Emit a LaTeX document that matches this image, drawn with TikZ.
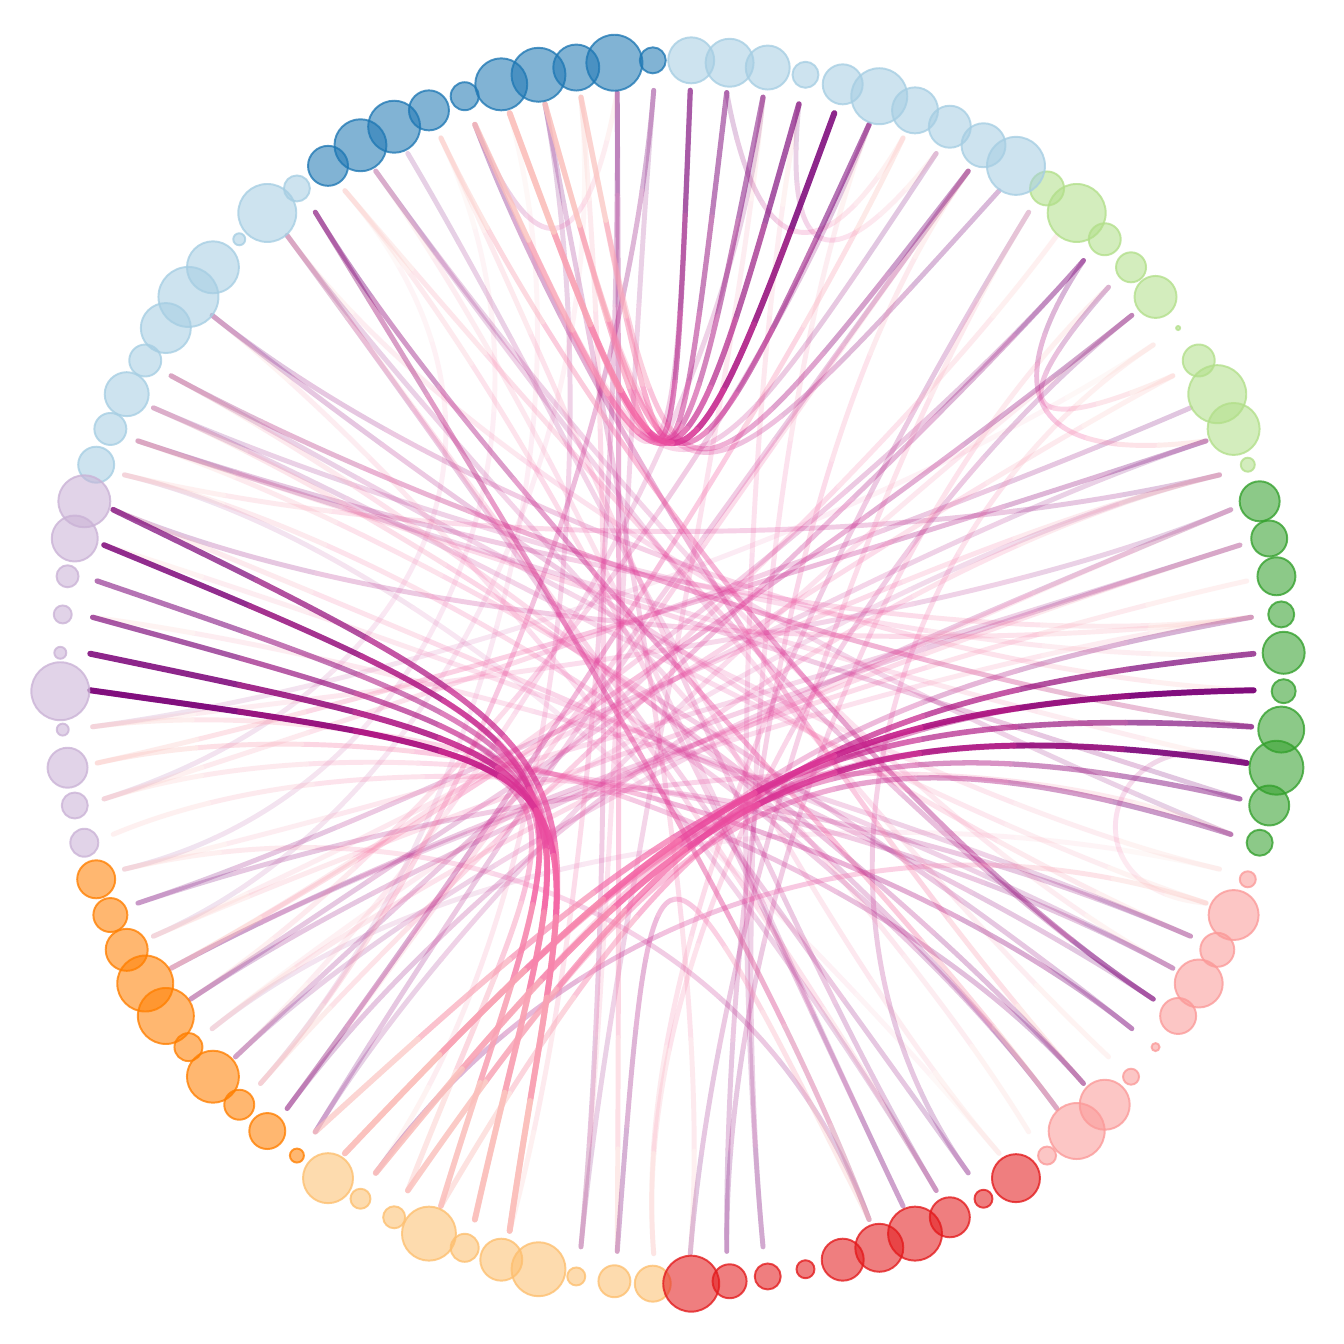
\documentclass[tikz,border=0pt]{standalone}
\definecolor{gDG}{HTML}{33A02C}
\definecolor{gLG}{HTML}{B2DF8A}
\definecolor{gLB}{HTML}{A6CEE3}
\definecolor{gDB}{HTML}{1F78B4}
\definecolor{gPU}{HTML}{CAB2D6}
\definecolor{gOR}{HTML}{FF7F00}
\definecolor{gLO}{HTML}{FDBF6F}
\definecolor{gRD}{HTML}{E31A1C}
\definecolor{gPK}{HTML}{FB9A99}
\definecolor{ec0}{HTML}{7A0177}
\definecolor{ec1}{HTML}{920879}
\definecolor{ec2}{HTML}{AB0F7F}
\definecolor{ec3}{HTML}{C41D89}
\definecolor{ec4}{HTML}{D93294}
\definecolor{ec5}{HTML}{EA4A9E}
\definecolor{ec6}{HTML}{F465A5}
\definecolor{ec7}{HTML}{F784AC}
\definecolor{ec8}{HTML}{F9A2B4}
\definecolor{ec9}{HTML}{FBC0BC}
\tikzset{dot/.style={circle,inner sep=0pt,minimum size=#1,line width=0.55pt,fill opacity=0.56,draw opacity=0.78}}
\newcommand\edgecurve[6]{%
  \begin{scope}[transparency group,opacity=#3]%
  \foreach \m/\col in {0/ec0,1/ec1,2/ec2,3/ec3,4/ec4,5/ec5,6/ec6,7/ec7,8/ec8,9/ec9}{%
    \pgfmathsetmacro\tA{\m/10}%
    \pgfmathsetmacro\tB{(\m+1)/10}%
    \begin{pgfscope}%
      \pgfsetstrokecolor{\col}%
      \pgfsetlinewidth{#4}%
      \pgfsetroundcap
      \pgfpathcurvebetweentime{\tA}{\tB}{\pgfpointanchor{e#1}{center}}{#5}{#6}{\pgfpointanchor{e#2}{center}}%
      \pgfusepath{stroke}%
    \end{pgfscope}%
  }%
  \end{scope}}
\newcommand\EG[4]{%
  \pgfmathsetmacro\tAa{1.8+3.6*#1}%
  \pgfmathtruncatemacro\gAa{mod(floor((#1+5)/10),10)}%
  \pgfmathsetmacro\cAa{36*\gAa+0.5*(mod(\tAa-36*\gAa+540,360)-180)}%
  \pgfmathsetmacro\tBb{1.8+3.6*#2}%
  \pgfmathtruncatemacro\gBb{mod(floor((#2+5)/10),10)}%
  \pgfmathsetmacro\cBb{36*\gBb+0.5*(mod(\tBb-36*\gBb+540,360)-180)}%
  \pgfmathsetmacro\aAa{#3*0.74}%
  \edgecurve{#1}{#2}{\aAa}{1.4pt}{\pgfpointpolar{\cAa}{#4cm}}{\pgfpointpolar{\cBb}{#4cm}}%
}
\newcommand\EB[6]{%
  \edgecurve{#1}{#2}{#3}{#4}{\pgfpointanchor{#5}{center}}{\pgfpointanchor{#6}{center}}%
}
\begin{document}
\begin{tikzpicture}
\fill[white] (-6.72,-6.72) rectangle (6.72,6.72);
\useasboundingbox (-6.72,-6.72) rectangle (6.72,6.72);
\foreach \k in {0,...,99}{\coordinate (e\k) at ({1.8+3.6*\k}:5.82);}
\coordinate (hA) at (0.0,1.19);
\coordinate (hB1) at (-0.22,-0.98);
\coordinate (hB2) at (-0.92,-0.78);
\coordinate (hC1) at (1.28,-0.28);
\coordinate (hC2) at (0.08,-1.28);
\coordinate (hD) at (-0.2,-1.15);
% faint edges
\EG{51}{9}{0.15}{2.6}
\EG{44}{84}{0.15}{2.6}
\EG{53}{34}{0.15}{2.6}
\EG{55}{31}{0.15}{2.6}
\EG{60}{94}{0.15}{2.6}
\EG{62}{29}{0.15}{2.6}
\EG{57}{27}{0.15}{2.6}
% light edges
\EG{3}{57}{0.3}{2.6}
\EG{4}{60}{0.3}{2.6}
\EG{5}{44}{0.3}{2.6}
\EG{7}{53}{0.3}{2.6}
\EG{10}{74}{0.3}{2.6}
\EG{14}{74}{0.3}{2.6}
\EG{72}{27}{0.3}{2.6}
\EG{28}{75}{0.3}{2.6}
\EG{32}{84}{0.25}{2.6}
\EG{33}{91}{0.25}{2.6}
\EG{36}{82}{0.3}{2.6}
\EG{39}{92}{0.3}{2.6}
\EG{41}{94}{0.25}{2.6}
\EG{42}{93}{0.25}{2.6}
\EG{43}{1}{0.3}{2.6}
\EG{45}{1}{0.3}{2.6}
\EG{91}{53}{0.3}{2.6}
\EG{92}{54}{0.3}{2.6}
\EG{90}{34}{0.35}{2.6}
\EG{86}{44}{0.3}{2.6}
\EG{83}{9}{0.3}{2.6}
\EG{82}{31}{0.3}{2.6}
\EG{81}{34}{0.3}{2.6}
\EG{80}{55}{0.3}{2.6}
\EG{77}{21}{0.25}{2.6}
\EG{76}{11}{0.3}{2.6}
\EG{75}{14}{0.3}{2.6}
\EG{56}{5}{0.3}{2.6}
\EG{58}{2}{0.3}{2.6}
\EG{59}{8}{0.3}{2.6}
\EG{61}{13}{0.3}{2.6}
\EG{64}{16}{0.3}{2.6}
\EG{98}{41}{0.3}{2.6}
\EG{96}{43}{0.3}{2.6}
\EG{95}{36}{0.25}{2.6}
\EG{3}{55}{0.25}{2.6}
\EG{4}{51}{0.25}{2.6}
\EG{5}{60}{0.2}{2.6}
\EG{6}{57}{0.25}{2.6}
\EG{16}{63}{0.3}{2.6}
\EG{19}{59}{0.3}{2.6}
\EG{22}{61}{0.25}{2.6}
\EG{33}{88}{0.25}{2.6}
\EG{36}{85}{0.25}{2.6}
\EG{39}{99}{0.3}{2.6}
\EG{41}{98}{0.3}{2.6}
\EG{42}{0}{0.25}{2.6}
\EG{43}{97}{0.25}{2.6}
\EG{56}{95}{0.3}{2.6}
\EG{58}{1}{0.25}{2.6}
\EG{59}{3}{0.3}{2.6}
\EG{61}{4}{0.25}{2.6}
\EG{63}{5}{0.3}{2.6}
\EG{64}{10}{0.25}{2.6}
\EG{72}{22}{0.25}{2.6}
\EG{76}{16}{0.3}{2.6}
\EG{77}{19}{0.25}{2.6}
\EG{80}{35}{0.3}{2.6}
\EG{81}{33}{0.25}{2.6}
\EG{82}{39}{0.25}{2.6}
\EG{83}{36}{0.3}{2.6}
\EG{86}{41}{0.3}{2.6}
\EG{89}{43}{0.3}{2.6}
\EG{90}{45}{0.3}{2.6}
\EG{91}{46}{0.25}{2.6}
\EG{92}{48}{0.25}{2.6}
\EG{28}{66}{0.25}{2.6}
\EG{26}{70}{0.3}{2.6}
\EG{25}{72}{0.25}{2.6}
\EG{12}{58}{0.3}{2.6}
% intra-group loops
\EG{12}{6}{0.4}{4.2}
\EG{11}{8}{0.35}{4.2}
\EG{23}{18}{0.28}{4.2}
\EG{21}{17}{0.25}{4.2}
\EG{97}{93}{0.22}{4.4}
\EG{30}{26}{0.25}{4.2}
% medium edges
\EG{6}{52}{0.4}{2.6}
\EG{10}{58}{0.45}{2.6}
\EG{12}{62}{0.4}{2.6}
\EG{25}{62}{0.4}{2.6}
\EG{26}{73}{0.45}{2.6}
\EG{30}{87}{0.45}{2.6}
\EG{35}{86}{0.55}{2.6}
\EG{35}{80}{0.45}{2.6}
\EG{87}{51}{0.35}{2.6}
\EG{89}{52}{0.45}{2.6}
\EG{90}{31}{0.55}{2.6}
\EG{63}{18}{0.45}{2.6}
\EG{66}{93}{0.4}{2.6}
\EG{87}{42}{0.35}{2.6}
\EB{73}{80}{0.3}{1.4pt}{hD}{hD}
% bundle A (top)
\EB{17}{30}{0.22}{1.4pt}{hA}{hA}
\EB{24}{30}{0.22}{1.4pt}{hA}{hA}
\EB{15}{28}{0.28}{1.4pt}{hA}{hA}
\EB{16}{27}{0.38}{1.45pt}{hA}{hA}
\EB{23}{27}{0.5}{1.5pt}{hA}{hA}
\EB{22}{29}{0.5}{1.5pt}{hA}{hA}
\EB{24}{28}{0.55}{1.5pt}{hA}{hA}
\EB{19}{28}{0.55}{1.5pt}{hA}{hA}
\EB{21}{30}{0.65}{1.6pt}{hA}{hA}
\EB{20}{29}{0.85}{1.7pt}{hA}{hA}
% bundle B (left)
\EB{46}{69}{0.3}{1.45pt}{hB1}{hB2}
\EB{48}{70}{0.3}{1.45pt}{hB1}{hB2}
\EB{50}{67}{0.4}{1.5pt}{hB1}{hB2}
\EB{48}{68}{0.5}{1.5pt}{hB1}{hB2}
\EB{47}{69}{0.55}{1.5pt}{hB1}{hB2}
\EB{45}{70}{0.7}{1.6pt}{hB1}{hB2}
\EB{46}{68}{0.75}{1.6pt}{hB1}{hB2}
\EB{49}{69}{0.85}{1.7pt}{hB1}{hB2}
\EB{50}{70}{0.9}{1.7pt}{hB1}{hB2}
% bundle C (right)
\EB{1}{66}{0.3}{1.45pt}{hC1}{hC2}
\EB{97}{65}{0.35}{1.45pt}{hC1}{hC2}
\EB{95}{67}{0.4}{1.5pt}{hC1}{hC2}
\EB{96}{65}{0.45}{1.5pt}{hC1}{hC2}
\EB{99}{68}{0.45}{1.5pt}{hC1}{hC2}
\EB{98}{64}{0.65}{1.6pt}{hC1}{hC2}
\EB{0}{67}{0.7}{1.6pt}{hC1}{hC2}
\EB{97}{66}{0.85}{1.7pt}{hC1}{hC2}
\EB{99}{65}{0.9}{1.7pt}{hC1}{hC2}
% nodes
\foreach \k/\r/\c in {0/21/gDG,1/13/gDG,2/19/gDG,3/18/gDG,4/20/gDG,
5/7/gLG,6/26/gLG,7/29/gLG,8/16/gLG,9/2/gLG,10/21/gLG,11/15/gLG,12/16/gLG,13/29/gLG,14/17/gLG,
15/29/gLB,16/22/gLB,17/21/gLB,18/23/gLB,19/28/gLB,20/20/gLB,21/13/gLB,22/22/gLB,23/24/gLB,24/23/gLB,
25/13/gDB,26/28/gDB,27/23/gDB,28/27/gDB,29/26/gDB,30/14/gDB,31/20/gDB,32/26/gDB,33/26/gDB,34/20/gDB,
35/13/gLB,36/29/gLB,37/6/gLB,38/26/gLB,39/30/gLB,40/25/gLB,41/16/gLB,42/22/gLB,43/16/gLB,44/18/gLB,
45/26/gPU,46/23/gPU,47/11/gPU,48/9/gPU,49/6/gPU,50/29/gPU,51/6/gPU,52/20/gPU,53/13/gPU,54/14/gPU,
55/19/gOR,56/17/gOR,57/21/gOR,58/28/gOR,59/28/gOR,60/14/gOR,61/26/gOR,62/15/gOR,63/18/gOR,64/7/gOR,
65/25/gLO,66/10/gLO,67/11/gLO,68/27/gLO,69/14/gLO,70/21/gLO,71/27/gLO,72/9/gLO,73/16/gLO,74/18/gLO,
75/28/gRD,76/17/gRD,77/13/gRD,78/9/gRD,79/21/gRD,80/24/gRD,81/27/gRD,82/20/gRD,83/9/gRD,84/24/gRD,
85/9/gPK,86/28/gPK,87/25/gPK,88/8/gPK,89/4/gPK,90/18/gPK,91/24/gPK,92/17/gPK,93/25/gPK,94/8/gPK,
95/13/gDG,96/20/gDG,97/27/gDG,98/23/gDG,99/12/gDG}{%
  \pgfmathsetmacro\dd{\r/50}%
  \node[dot=\dd cm, draw=\c, fill=\c] (n\k) at ({1.8+3.6*\k}:6.12) {};
}
\end{tikzpicture}
\end{document}
